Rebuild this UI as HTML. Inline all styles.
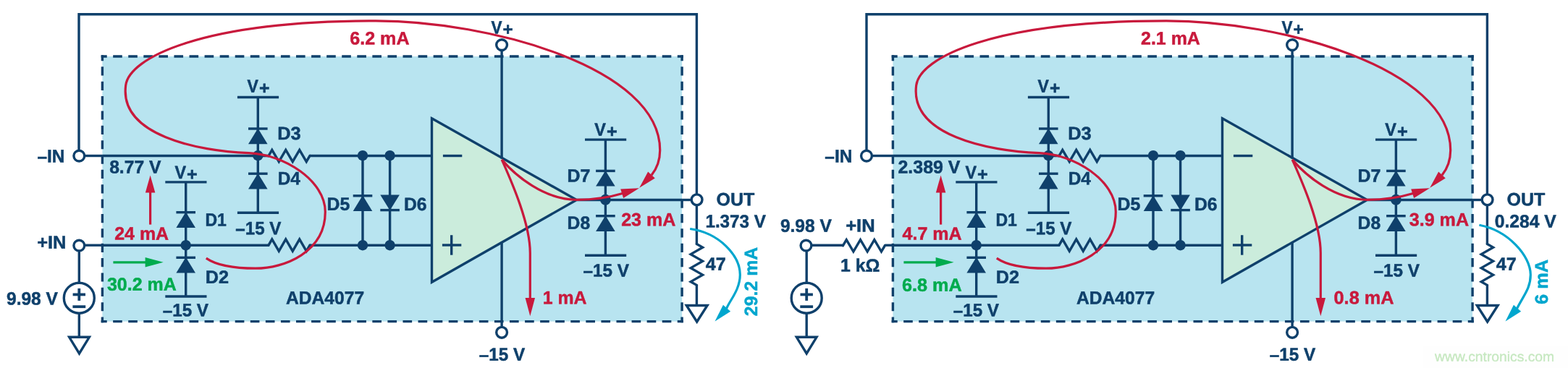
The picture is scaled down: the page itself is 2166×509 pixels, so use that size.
<!DOCTYPE html>
<html lang="en"><head><meta charset="utf-8"><title>ADA4077 input protection current paths</title>
<style>html,body{margin:0;padding:0;background:#fff}body{width:2166px;height:509px;overflow:hidden}svg{display:block;will-change:transform}text{text-rendering:geometricPrecision;font-family:"Liberation Sans",Arial,Helvetica,sans-serif;font-weight:bold;stroke:currentColor;stroke-width:0.5px;stroke-linejoin:round}</style>
</head><body>
<svg width="2166" height="509" viewBox="0 0 2166 509">
<rect width="2166" height="509" fill="#fff"/>
<rect x="1965.8" y="478.7" width="200.2" height="30.3" fill="#fefefe"/>
<rect x="141.4" y="78.05" width="800.7" height="366.55" fill="#b8e4f0"/>
<g stroke="#0f406b" stroke-width="3.4" fill="none">
<path d="M139.7 78.05 H943.8 M139.7 444.6 H943.8" stroke-dasharray="12.643 8.428" stroke-dashoffset="4.621"/>
<path d="M141.4 76.35 V446.3 M942.1 76.35 V446.3" stroke-dasharray="12.218 8.146" stroke-dashoffset="4.409"/>
</g>
<polygon points="596.5,163.8 796.5,276.5 596.5,390.3" fill="#cbecdc" stroke="#0f406b" stroke-width="3.4" stroke-linejoin="miter"/>
<line x1="611.9" y1="215.5" x2="638.3" y2="215.5" stroke="#0f406b" stroke-width="3.4" stroke-linecap="butt"/>
<line x1="610.9" y1="339" x2="637.3" y2="339" stroke="#0f406b" stroke-width="3.4" stroke-linecap="butt"/>
<line x1="623.7" y1="325.2" x2="623.7" y2="352.7" stroke="#0f406b" stroke-width="3.4" stroke-linecap="butt"/>
<line x1="693.1" y1="70" x2="693.1" y2="219.5" stroke="#0f406b" stroke-width="3.4" stroke-linecap="butt"/>
<line x1="693.1" y1="334.5" x2="693.1" y2="452" stroke="#0f406b" stroke-width="3.4" stroke-linecap="butt"/>
<circle cx="693.1" cy="62.1" r="7.4" fill="#fff" stroke="#0f406b" stroke-width="3.4"/>
<circle cx="693.1" cy="459.8" r="7.4" fill="#fff" stroke="#0f406b" stroke-width="3.4"/>
<line x1="141.4" y1="215.5" x2="371" y2="215.5" stroke="#0f406b" stroke-width="3.4" stroke-linecap="butt"/>
<polyline points="370,215.5 371,215.5 375.75,207.3 385.25,223.7 394.75,207.3 404.25,223.7 413.75,207.3 423.25,223.7 428,215.5 429,215.5" fill="none" stroke="#0f406b" stroke-width="3.4" stroke-linejoin="miter"/>
<line x1="428" y1="215.5" x2="596.5" y2="215.5" stroke="#0f406b" stroke-width="3.4" stroke-linecap="butt"/>
<line x1="141.4" y1="339.2" x2="371" y2="339.2" stroke="#0f406b" stroke-width="3.4" stroke-linecap="butt"/>
<polyline points="370,339.2 371,339.2 375.75,331 385.25,347.4 394.75,331 404.25,347.4 413.75,331 423.25,347.4 428,339.2 429,339.2" fill="none" stroke="#0f406b" stroke-width="3.4" stroke-linejoin="miter"/>
<line x1="428" y1="339.2" x2="596.5" y2="339.2" stroke="#0f406b" stroke-width="3.4" stroke-linecap="butt"/>
<line x1="797" y1="276.5" x2="942.2" y2="276.5" stroke="#0f406b" stroke-width="3.4" stroke-linecap="butt"/>
<line x1="356.3" y1="134.5" x2="356.3" y2="294.2" stroke="#0f406b" stroke-width="3.4" stroke-linecap="butt"/>
<line x1="327.9" y1="134.5" x2="385.1" y2="134.5" stroke="#0f406b" stroke-width="3.4" stroke-linecap="butt"/>
<line x1="327.9" y1="294.2" x2="385.1" y2="294.2" stroke="#0f406b" stroke-width="3.4" stroke-linecap="butt"/>
<polygon points="356.3,177.5 369.6,199.2 343,199.2" fill="#0f406b"/>
<line x1="343" y1="178" x2="369.6" y2="178" stroke="#0f406b" stroke-width="3.4" stroke-linecap="butt"/>
<polygon points="356.3,239.7 369.6,261.4 343,261.4" fill="#0f406b"/>
<line x1="343" y1="240.2" x2="369.6" y2="240.2" stroke="#0f406b" stroke-width="3.4" stroke-linecap="butt"/>
<circle cx="356.3" cy="215.2" r="7.2" fill="#0f406b"/>
<line x1="256.7" y1="251.9" x2="256.7" y2="410" stroke="#0f406b" stroke-width="3.4" stroke-linecap="butt"/>
<line x1="228.3" y1="251.9" x2="285.5" y2="251.9" stroke="#0f406b" stroke-width="3.4" stroke-linecap="butt"/>
<line x1="228.3" y1="410" x2="285.5" y2="410" stroke="#0f406b" stroke-width="3.4" stroke-linecap="butt"/>
<polygon points="256.7,293.2 270,314.9 243.4,314.9" fill="#0f406b"/>
<line x1="243.4" y1="293.7" x2="270" y2="293.7" stroke="#0f406b" stroke-width="3.4" stroke-linecap="butt"/>
<polygon points="256.7,355.8 270,377.5 243.4,377.5" fill="#0f406b"/>
<line x1="243.4" y1="356.3" x2="270" y2="356.3" stroke="#0f406b" stroke-width="3.4" stroke-linecap="butt"/>
<circle cx="256.7" cy="339.2" r="7.2" fill="#0f406b"/>
<line x1="501" y1="215.5" x2="501" y2="339.2" stroke="#0f406b" stroke-width="3.4" stroke-linecap="butt"/>
<polygon points="501,270.3 514.3,292 487.7,292" fill="#0f406b"/>
<line x1="487.7" y1="270.8" x2="514.3" y2="270.8" stroke="#0f406b" stroke-width="3.4" stroke-linecap="butt"/>
<circle cx="501" cy="215.2" r="7.2" fill="#0f406b"/>
<circle cx="501" cy="339.2" r="7.2" fill="#0f406b"/>
<line x1="538.6" y1="215.5" x2="538.6" y2="339.2" stroke="#0f406b" stroke-width="3.4" stroke-linecap="butt"/>
<polygon points="538.6,291.1 551.9,269.4 525.3,269.4" fill="#0f406b"/>
<line x1="525.3" y1="290.6" x2="551.9" y2="290.6" stroke="#0f406b" stroke-width="3.4" stroke-linecap="butt"/>
<circle cx="538.6" cy="215.2" r="7.2" fill="#0f406b"/>
<circle cx="538.6" cy="339.2" r="7.2" fill="#0f406b"/>
<line x1="836.4" y1="193.1" x2="836.4" y2="353.3" stroke="#0f406b" stroke-width="3.4" stroke-linecap="butt"/>
<line x1="808" y1="193.1" x2="865.2" y2="193.1" stroke="#0f406b" stroke-width="3.4" stroke-linecap="butt"/>
<line x1="808" y1="353.3" x2="865.2" y2="353.3" stroke="#0f406b" stroke-width="3.4" stroke-linecap="butt"/>
<polygon points="836.4,235.9 849.7,257.6 823.1,257.6" fill="#0f406b"/>
<line x1="823.1" y1="236.4" x2="849.7" y2="236.4" stroke="#0f406b" stroke-width="3.4" stroke-linecap="butt"/>
<polygon points="836.4,298.2 849.7,319.9 823.1,319.9" fill="#0f406b"/>
<line x1="823.1" y1="298.7" x2="849.7" y2="298.7" stroke="#0f406b" stroke-width="3.4" stroke-linecap="butt"/>
<circle cx="836.4" cy="276.2" r="7.4" fill="#0f406b"/>
<path d="M284.8 357.1 C300 367.6 324 371.2 353 371.2 C392.6 371.2 449.3 348.9 449.3 293 C449.3 249.9 392.5 213.4 343.5 211.7 C273.4 209.1 164.7 187.2 173.7 118 C178.5 80.2 278.3 28.9 519 28.9 C676.2 28.9 911.7 93.5 911.7 207.7 C911.7 220.3 909.1 230.8 900 242.3" fill="none" stroke="#c8193c" stroke-width="3.2"/>
<polygon points="883.2,259.8 895.16,237.42 904.78,246.46" fill="#c8193c"/>
<path d="M693.2 220.9 C712 243 752 276.3 797 276.3 C822 276.3 842 273 861 267.3" fill="none" stroke="#c8193c" stroke-width="3.2"/>
<polygon points="883,260.2 861.14,273.95 857.2,261.56" fill="#c8193c"/>
<path d="M693.2 220.9 C708 254 732.3 310 732.3 350 V414" fill="none" stroke="#c8193c" stroke-width="3.2"/>
<polygon points="732.3,437.2 725.55,412 739.05,412" fill="#c8193c"/>
<line x1="207.6" y1="310.6" x2="207.6" y2="264" stroke="#c8193c" stroke-width="3.2" stroke-linecap="butt"/>
<polygon points="207.6,242.4 214.35,266.4 200.85,266.4" fill="#c8193c"/>
<line x1="156.4" y1="362.8" x2="202" y2="362.8" stroke="#00ab4e" stroke-width="3.2" stroke-linecap="butt"/>
<polygon points="225.6,362.8 200.6,369.55 200.6,356.05" fill="#00ab4e"/>
<polyline points="109,208.5 109,19.8 962.4,19.8 962.4,268.8" fill="none" stroke="#0f406b" stroke-width="3.4" stroke-linejoin="miter"/>
<line x1="116.5" y1="215.5" x2="141.4" y2="215.5" stroke="#0f406b" stroke-width="3.4" stroke-linecap="butt"/>
<line x1="116.5" y1="339.2" x2="141.4" y2="339.2" stroke="#0f406b" stroke-width="3.4" stroke-linecap="butt"/>
<circle cx="109.3" cy="215.6" r="7.4" fill="#fff" stroke="#0f406b" stroke-width="3.4"/>
<line x1="942.2" y1="276.5" x2="955.4" y2="276.5" stroke="#0f406b" stroke-width="3.4" stroke-linecap="butt"/>
<line x1="962.4" y1="284" x2="962.4" y2="337.4" stroke="#0f406b" stroke-width="3.4" stroke-linecap="butt"/>
<polyline points="962.4,336.4 962.4,337.4 970.6,342.15 954.2,351.65 970.6,361.15 954.2,370.65 970.6,380.15 954.2,389.65 962.4,394.4 962.4,395.4" fill="none" stroke="#0f406b" stroke-width="3.4" stroke-linejoin="miter"/>
<line x1="962.4" y1="394.4" x2="962.4" y2="421.5" stroke="#0f406b" stroke-width="3.4" stroke-linecap="butt"/>
<polygon points="948.3,422.5 977.1,422.5 962.7,445" fill="#fff" stroke="#0f406b" stroke-width="3.4" stroke-linejoin="miter"/>
<path d="M953.2 316.5 C994.1 322.1 1022.3 353.8 1022.3 380 C1022.3 400.5 1008.4 415.2 1003.6 426.6" fill="none" stroke="#00a6ce" stroke-width="3.2"/>
<polygon points="987.5,444.6 998.94,421.66 1009.12,430.83" fill="#00a6ce"/>
<circle cx="962.6" cy="276.3" r="7.4" fill="#fff" stroke="#0f406b" stroke-width="3.4"/>
<line x1="109.3" y1="346.5" x2="109.3" y2="391" stroke="#0f406b" stroke-width="3.4" stroke-linecap="butt"/>
<line x1="109.3" y1="433.5" x2="109.3" y2="466" stroke="#0f406b" stroke-width="3.4" stroke-linecap="butt"/>
<circle cx="109.3" cy="339.6" r="7.4" fill="#fff" stroke="#0f406b" stroke-width="3.4"/>
<circle cx="109.3" cy="412.2" r="21" fill="#fff" stroke="#0f406b" stroke-width="3.4"/>
<line x1="100.6" y1="407.4" x2="118" y2="407.4" stroke="#0f406b" stroke-width="3.8" stroke-linecap="butt"/>
<line x1="109.3" y1="398.9" x2="109.3" y2="415.9" stroke="#0f406b" stroke-width="3.8" stroke-linecap="butt"/>
<line x1="100.4" y1="424.2" x2="118.2" y2="424.2" stroke="#0f406b" stroke-width="3.8" stroke-linecap="butt"/>
<polygon points="95.65,466.3 123.35,466.3 109.5,488.9" fill="#fff" stroke="#0f406b" stroke-width="3.4" stroke-linejoin="miter"/>
<rect x="1233.4" y="78.05" width="800.7" height="366.55" fill="#b8e4f0"/>
<g stroke="#0f406b" stroke-width="3.4" fill="none">
<path d="M1231.7 78.05 H2035.8 M1231.7 444.6 H2035.8" stroke-dasharray="12.643 8.428" stroke-dashoffset="4.621"/>
<path d="M1233.4 76.35 V446.3 M2034.1 76.35 V446.3" stroke-dasharray="12.218 8.146" stroke-dashoffset="4.409"/>
</g>
<polygon points="1688.5,163.8 1888.5,276.5 1688.5,390.3" fill="#cbecdc" stroke="#0f406b" stroke-width="3.4" stroke-linejoin="miter"/>
<line x1="1703.9" y1="215.5" x2="1730.3" y2="215.5" stroke="#0f406b" stroke-width="3.4" stroke-linecap="butt"/>
<line x1="1702.9" y1="339" x2="1729.3" y2="339" stroke="#0f406b" stroke-width="3.4" stroke-linecap="butt"/>
<line x1="1715.7" y1="325.2" x2="1715.7" y2="352.7" stroke="#0f406b" stroke-width="3.4" stroke-linecap="butt"/>
<line x1="1785.1" y1="70" x2="1785.1" y2="219.5" stroke="#0f406b" stroke-width="3.4" stroke-linecap="butt"/>
<line x1="1785.1" y1="334.5" x2="1785.1" y2="452" stroke="#0f406b" stroke-width="3.4" stroke-linecap="butt"/>
<circle cx="1785.1" cy="62.1" r="7.4" fill="#fff" stroke="#0f406b" stroke-width="3.4"/>
<circle cx="1785.1" cy="459.8" r="7.4" fill="#fff" stroke="#0f406b" stroke-width="3.4"/>
<line x1="1233.4" y1="215.5" x2="1463" y2="215.5" stroke="#0f406b" stroke-width="3.4" stroke-linecap="butt"/>
<polyline points="1462,215.5 1463,215.5 1467.75,207.3 1477.25,223.7 1486.75,207.3 1496.25,223.7 1505.75,207.3 1515.25,223.7 1520,215.5 1521,215.5" fill="none" stroke="#0f406b" stroke-width="3.4" stroke-linejoin="miter"/>
<line x1="1520" y1="215.5" x2="1688.5" y2="215.5" stroke="#0f406b" stroke-width="3.4" stroke-linecap="butt"/>
<line x1="1233.4" y1="339.2" x2="1463" y2="339.2" stroke="#0f406b" stroke-width="3.4" stroke-linecap="butt"/>
<polyline points="1462,339.2 1463,339.2 1467.75,331 1477.25,347.4 1486.75,331 1496.25,347.4 1505.75,331 1515.25,347.4 1520,339.2 1521,339.2" fill="none" stroke="#0f406b" stroke-width="3.4" stroke-linejoin="miter"/>
<line x1="1520" y1="339.2" x2="1688.5" y2="339.2" stroke="#0f406b" stroke-width="3.4" stroke-linecap="butt"/>
<line x1="1889" y1="276.5" x2="2034.2" y2="276.5" stroke="#0f406b" stroke-width="3.4" stroke-linecap="butt"/>
<line x1="1448.3" y1="134.5" x2="1448.3" y2="294.2" stroke="#0f406b" stroke-width="3.4" stroke-linecap="butt"/>
<line x1="1419.9" y1="134.5" x2="1477.1" y2="134.5" stroke="#0f406b" stroke-width="3.4" stroke-linecap="butt"/>
<line x1="1419.9" y1="294.2" x2="1477.1" y2="294.2" stroke="#0f406b" stroke-width="3.4" stroke-linecap="butt"/>
<polygon points="1448.3,177.5 1461.6,199.2 1435,199.2" fill="#0f406b"/>
<line x1="1435" y1="178" x2="1461.6" y2="178" stroke="#0f406b" stroke-width="3.4" stroke-linecap="butt"/>
<polygon points="1448.3,239.7 1461.6,261.4 1435,261.4" fill="#0f406b"/>
<line x1="1435" y1="240.2" x2="1461.6" y2="240.2" stroke="#0f406b" stroke-width="3.4" stroke-linecap="butt"/>
<circle cx="1448.3" cy="215.2" r="7.2" fill="#0f406b"/>
<line x1="1348.7" y1="251.9" x2="1348.7" y2="410" stroke="#0f406b" stroke-width="3.4" stroke-linecap="butt"/>
<line x1="1320.3" y1="251.9" x2="1377.5" y2="251.9" stroke="#0f406b" stroke-width="3.4" stroke-linecap="butt"/>
<line x1="1320.3" y1="410" x2="1377.5" y2="410" stroke="#0f406b" stroke-width="3.4" stroke-linecap="butt"/>
<polygon points="1348.7,293.2 1362,314.9 1335.4,314.9" fill="#0f406b"/>
<line x1="1335.4" y1="293.7" x2="1362" y2="293.7" stroke="#0f406b" stroke-width="3.4" stroke-linecap="butt"/>
<polygon points="1348.7,355.8 1362,377.5 1335.4,377.5" fill="#0f406b"/>
<line x1="1335.4" y1="356.3" x2="1362" y2="356.3" stroke="#0f406b" stroke-width="3.4" stroke-linecap="butt"/>
<circle cx="1348.7" cy="339.2" r="7.2" fill="#0f406b"/>
<line x1="1593" y1="215.5" x2="1593" y2="339.2" stroke="#0f406b" stroke-width="3.4" stroke-linecap="butt"/>
<polygon points="1593,270.3 1606.3,292 1579.7,292" fill="#0f406b"/>
<line x1="1579.7" y1="270.8" x2="1606.3" y2="270.8" stroke="#0f406b" stroke-width="3.4" stroke-linecap="butt"/>
<circle cx="1593" cy="215.2" r="7.2" fill="#0f406b"/>
<circle cx="1593" cy="339.2" r="7.2" fill="#0f406b"/>
<line x1="1630.6" y1="215.5" x2="1630.6" y2="339.2" stroke="#0f406b" stroke-width="3.4" stroke-linecap="butt"/>
<polygon points="1630.6,291.1 1643.9,269.4 1617.3,269.4" fill="#0f406b"/>
<line x1="1617.3" y1="290.6" x2="1643.9" y2="290.6" stroke="#0f406b" stroke-width="3.4" stroke-linecap="butt"/>
<circle cx="1630.6" cy="215.2" r="7.2" fill="#0f406b"/>
<circle cx="1630.6" cy="339.2" r="7.2" fill="#0f406b"/>
<line x1="1928.4" y1="193.1" x2="1928.4" y2="353.3" stroke="#0f406b" stroke-width="3.4" stroke-linecap="butt"/>
<line x1="1900" y1="193.1" x2="1957.2" y2="193.1" stroke="#0f406b" stroke-width="3.4" stroke-linecap="butt"/>
<line x1="1900" y1="353.3" x2="1957.2" y2="353.3" stroke="#0f406b" stroke-width="3.4" stroke-linecap="butt"/>
<polygon points="1928.4,235.9 1941.7,257.6 1915.1,257.6" fill="#0f406b"/>
<line x1="1915.1" y1="236.4" x2="1941.7" y2="236.4" stroke="#0f406b" stroke-width="3.4" stroke-linecap="butt"/>
<polygon points="1928.4,298.2 1941.7,319.9 1915.1,319.9" fill="#0f406b"/>
<line x1="1915.1" y1="298.7" x2="1941.7" y2="298.7" stroke="#0f406b" stroke-width="3.4" stroke-linecap="butt"/>
<circle cx="1928.4" cy="276.2" r="7.4" fill="#0f406b"/>
<path d="M1376.8 357.1 C1392 367.6 1416 371.2 1445 371.2 C1484.6 371.2 1541.3 348.9 1541.3 293 C1541.3 249.9 1484.5 213.4 1435.5 211.7 C1365.4 209.1 1256.7 187.2 1265.7 118 C1270.5 80.2 1370.3 28.9 1611 28.9 C1768.2 28.9 2003.7 93.5 2003.7 207.7 C2003.7 220.3 2001.1 230.8 1992 242.3" fill="none" stroke="#c8193c" stroke-width="3.2"/>
<polygon points="1975.2,259.8 1987.16,237.42 1996.78,246.46" fill="#c8193c"/>
<path d="M1785.2 220.9 C1804 243 1844 276.3 1889 276.3 C1914 276.3 1934 273 1953 267.3" fill="none" stroke="#c8193c" stroke-width="3.2"/>
<polygon points="1975,260.2 1953.14,273.95 1949.2,261.56" fill="#c8193c"/>
<path d="M1785.2 220.9 C1800 254 1824.3 310 1824.3 350 V414" fill="none" stroke="#c8193c" stroke-width="3.2"/>
<polygon points="1824.3,437.2 1817.55,412 1831.05,412" fill="#c8193c"/>
<line x1="1299.6" y1="310.6" x2="1299.6" y2="264" stroke="#c8193c" stroke-width="3.2" stroke-linecap="butt"/>
<polygon points="1299.6,242.4 1306.35,266.4 1292.85,266.4" fill="#c8193c"/>
<line x1="1248.4" y1="362.8" x2="1294" y2="362.8" stroke="#00ab4e" stroke-width="3.2" stroke-linecap="butt"/>
<polygon points="1317.6,362.8 1292.6,369.55 1292.6,356.05" fill="#00ab4e"/>
<polyline points="1197,208.5 1197,19.8 2054.4,19.8 2054.4,268.8" fill="none" stroke="#0f406b" stroke-width="3.4" stroke-linejoin="miter"/>
<line x1="1204" y1="215.5" x2="1233.4" y2="215.5" stroke="#0f406b" stroke-width="3.4" stroke-linecap="butt"/>
<circle cx="1197" cy="215.6" r="7.4" fill="#fff" stroke="#0f406b" stroke-width="3.4"/>
<line x1="2034.2" y1="276.5" x2="2047.4" y2="276.5" stroke="#0f406b" stroke-width="3.4" stroke-linecap="butt"/>
<line x1="2054.4" y1="284" x2="2054.4" y2="337.4" stroke="#0f406b" stroke-width="3.4" stroke-linecap="butt"/>
<polyline points="2054.4,336.4 2054.4,337.4 2062.6,342.15 2046.2,351.65 2062.6,361.15 2046.2,370.65 2062.6,380.15 2046.2,389.65 2054.4,394.4 2054.4,395.4" fill="none" stroke="#0f406b" stroke-width="3.4" stroke-linejoin="miter"/>
<line x1="2054.4" y1="394.4" x2="2054.4" y2="421.5" stroke="#0f406b" stroke-width="3.4" stroke-linecap="butt"/>
<polygon points="2040.3,422.5 2069.1,422.5 2054.7,445" fill="#fff" stroke="#0f406b" stroke-width="3.4" stroke-linejoin="miter"/>
<path d="M2043.4 311.3 C2083.1 318.7 2114.3 353.7 2114.3 380 C2114.3 398.9 2104.7 408.5 2095.6 426.6" fill="none" stroke="#00a6ce" stroke-width="3.2"/>
<polygon points="2079.5,444.6 2090.94,421.66 2101.12,430.83" fill="#00a6ce"/>
<circle cx="2054.6" cy="276.3" r="7.4" fill="#fff" stroke="#0f406b" stroke-width="3.4"/>
<line x1="1121.5" y1="339.2" x2="1164.4" y2="339.2" stroke="#0f406b" stroke-width="3.4" stroke-linecap="butt"/>
<polyline points="1163.4,339.8 1164.4,339.8 1169.23,331.6 1178.88,348 1188.53,331.6 1198.17,348 1207.83,331.6 1217.47,348 1222.3,339.8 1223.3,339.8" fill="none" stroke="#0f406b" stroke-width="3.4" stroke-linejoin="miter"/>
<line x1="1222.3" y1="339.2" x2="1233.4" y2="339.2" stroke="#0f406b" stroke-width="3.4" stroke-linecap="butt"/>
<line x1="1114.2" y1="346.5" x2="1114.2" y2="391" stroke="#0f406b" stroke-width="3.4" stroke-linecap="butt"/>
<line x1="1114.2" y1="433.5" x2="1114.2" y2="466" stroke="#0f406b" stroke-width="3.4" stroke-linecap="butt"/>
<circle cx="1113.5" cy="339.6" r="7.4" fill="#fff" stroke="#0f406b" stroke-width="3.4"/>
<circle cx="1114.2" cy="412.2" r="21" fill="#fff" stroke="#0f406b" stroke-width="3.4"/>
<line x1="1105.5" y1="407.4" x2="1122.9" y2="407.4" stroke="#0f406b" stroke-width="3.8" stroke-linecap="butt"/>
<line x1="1114.2" y1="398.9" x2="1114.2" y2="415.9" stroke="#0f406b" stroke-width="3.8" stroke-linecap="butt"/>
<line x1="1105.3" y1="424.2" x2="1123.1" y2="424.2" stroke="#0f406b" stroke-width="3.8" stroke-linecap="butt"/>
<polygon points="1100.35,466.3 1128.05,466.3 1114.2,488.9" fill="#fff" stroke="#0f406b" stroke-width="3.4" stroke-linejoin="miter"/>
<text transform="translate(241.49 247) rotate(0.05) scale(0.9311 1)" fill="#0f406b" color="#0f406b" font-size="25">V</text>
<text transform="translate(258.09 248.9) rotate(0.05) scale(1.0567 1)" fill="#0f406b" color="#0f406b" font-size="23.8">+</text>
<text transform="translate(341.49 127.8) rotate(0.05) scale(0.9185 1)" fill="#0f406b" color="#0f406b" font-size="25">V</text>
<text transform="translate(357.88 129.7) rotate(0.05) scale(1.0423 1)" fill="#0f406b" color="#0f406b" font-size="23.8">+</text>
<text transform="translate(821.29 187.8) rotate(0.05) scale(0.9374 1)" fill="#0f406b" color="#0f406b" font-size="25">V</text>
<text transform="translate(838 189.7) rotate(0.05) scale(1.0639 1)" fill="#0f406b" color="#0f406b" font-size="23.8">+</text>
<text transform="translate(678.39 46.5) rotate(0.05) scale(0.8997 1)" fill="#0f406b" color="#0f406b" font-size="25">V</text>
<text transform="translate(694.46 48.4) rotate(0.05) scale(1.0208 1)" fill="#0f406b" color="#0f406b" font-size="23.8">+</text>
<text transform="translate(224.72 437.5) rotate(0.05) scale(0.9689 1)" fill="#0f406b" color="#0f406b" font-size="25"><tspan dy="0.5">–</tspan><tspan dy="-0.5">15 V</tspan></text>
<text transform="translate(325.33 324.2) rotate(0.05) scale(0.9658 1)" fill="#0f406b" color="#0f406b" font-size="25"><tspan dy="0.5">–</tspan><tspan dy="-0.5">15 V</tspan></text>
<text transform="translate(805.52 382.6) rotate(0.05) scale(0.9705 1)" fill="#0f406b" color="#0f406b" font-size="25"><tspan dy="0.5">–</tspan><tspan dy="-0.5">15 V</tspan></text>
<text transform="translate(661.72 498.8) rotate(0.05) scale(0.9705 1)" fill="#0f406b" color="#0f406b" font-size="25"><tspan dy="0.5">–</tspan><tspan dy="-0.5">15 V</tspan></text>
<text transform="translate(283.51 312.6) rotate(0.05) scale(0.9197 1)" fill="#0f406b" color="#0f406b" font-size="25">D1</text>
<text transform="translate(283.76 391.8) rotate(0.05) scale(1.0111 1)" fill="#0f406b" color="#0f406b" font-size="25">D2</text>
<text transform="translate(383.15 192.9) rotate(0.05) scale(1.0179 1)" fill="#0f406b" color="#0f406b" font-size="25">D3</text>
<text transform="translate(383.72 255.3) rotate(0.05) scale(0.9751 1)" fill="#0f406b" color="#0f406b" font-size="25">D4</text>
<text transform="translate(451.58 290.8) rotate(0.05) scale(0.9941 1)" fill="#0f406b" color="#0f406b" font-size="25">D5</text>
<text transform="translate(557.99 290.9) rotate(0.05) scale(0.9906 1)" fill="#0f406b" color="#0f406b" font-size="25">D6</text>
<text transform="translate(783.58 251.5) rotate(0.05) scale(0.9974 1)" fill="#0f406b" color="#0f406b" font-size="25">D7</text>
<text transform="translate(783.6 316.8) rotate(0.05) scale(0.9864 1)" fill="#0f406b" color="#0f406b" font-size="25">D8</text>
<text transform="translate(395.03 420.5) rotate(0.05) scale(0.9847 1)" fill="#0f406b" color="#0f406b" font-size="25">ADA4077</text>
<text transform="translate(483.22 61.5) rotate(0.05) scale(1.0037 1)" fill="#c8193c" color="#c8193c" font-size="25">6.2 mA</text>
<text transform="translate(858.17 312.2) rotate(0.05) scale(1.0027 1)" fill="#c8193c" color="#c8193c" font-size="25">23 mA</text>
<text transform="translate(749.68 420.3) rotate(0.05) scale(0.9949 1)" fill="#c8193c" color="#c8193c" font-size="25">1 mA</text>
<text transform="translate(158.18 331.6) rotate(0.05) scale(0.9986 1)" fill="#c8193c" color="#c8193c" font-size="25">24 mA</text>
<text transform="translate(147.98 401.7) rotate(0.05) scale(0.9984 1)" fill="#00ab4e" color="#00ab4e" font-size="25">30.2 mA</text>
<text transform="translate(151.16 239.5) rotate(0.05) scale(0.9860 1)" fill="#0f406b" color="#0f406b" font-size="25">8.77 V</text>
<text transform="translate(989.42 284.3) rotate(0.05) scale(1.0024 1)" fill="#0f406b" color="#0f406b" font-size="25">OUT</text>
<text transform="translate(974.42 314.6) rotate(0.05) scale(0.9689 1)" fill="#0f406b" color="#0f406b" font-size="25">1.373 V</text>
<text transform="translate(974.87 373.7) rotate(0.05) scale(1.0066 1)" fill="#0f406b" color="#0f406b" font-size="25">47</text>
<text transform="translate(1046.05 437.22) rotate(-89.95) scale(0.9963 1)" fill="#00a6ce" color="#00a6ce" font-size="25">29.2 mA</text>
<text transform="translate(51.42 224.4) rotate(0.05) scale(0.9760 1)" fill="#0f406b" color="#0f406b" font-size="25"><tspan dy="0.5">–</tspan><tspan dy="-0.5">IN</tspan></text>
<text transform="translate(51.18 343.8) rotate(0.05) scale(1.0169 1)" fill="#0f406b" color="#0f406b" font-size="25">+IN</text>
<text transform="translate(8.99 421.5) rotate(0.05) scale(0.9814 1)" fill="#0f406b" color="#0f406b" font-size="25">9.98 V</text>
<text transform="translate(1333.49 247) rotate(0.05) scale(0.9311 1)" fill="#0f406b" color="#0f406b" font-size="25">V</text>
<text transform="translate(1350.09 248.9) rotate(0.05) scale(1.0567 1)" fill="#0f406b" color="#0f406b" font-size="23.8">+</text>
<text transform="translate(1433.49 127.8) rotate(0.05) scale(0.9185 1)" fill="#0f406b" color="#0f406b" font-size="25">V</text>
<text transform="translate(1449.88 129.7) rotate(0.05) scale(1.0423 1)" fill="#0f406b" color="#0f406b" font-size="23.8">+</text>
<text transform="translate(1913.29 187.8) rotate(0.05) scale(0.9374 1)" fill="#0f406b" color="#0f406b" font-size="25">V</text>
<text transform="translate(1930 189.7) rotate(0.05) scale(1.0639 1)" fill="#0f406b" color="#0f406b" font-size="23.8">+</text>
<text transform="translate(1770.39 46.5) rotate(0.05) scale(0.8997 1)" fill="#0f406b" color="#0f406b" font-size="25">V</text>
<text transform="translate(1786.46 48.4) rotate(0.05) scale(1.0208 1)" fill="#0f406b" color="#0f406b" font-size="23.8">+</text>
<text transform="translate(1316.72 437.5) rotate(0.05) scale(0.9689 1)" fill="#0f406b" color="#0f406b" font-size="25"><tspan dy="0.5">–</tspan><tspan dy="-0.5">15 V</tspan></text>
<text transform="translate(1417.33 324.2) rotate(0.05) scale(0.9658 1)" fill="#0f406b" color="#0f406b" font-size="25"><tspan dy="0.5">–</tspan><tspan dy="-0.5">15 V</tspan></text>
<text transform="translate(1897.52 382.6) rotate(0.05) scale(0.9705 1)" fill="#0f406b" color="#0f406b" font-size="25"><tspan dy="0.5">–</tspan><tspan dy="-0.5">15 V</tspan></text>
<text transform="translate(1753.72 498.8) rotate(0.05) scale(0.9705 1)" fill="#0f406b" color="#0f406b" font-size="25"><tspan dy="0.5">–</tspan><tspan dy="-0.5">15 V</tspan></text>
<text transform="translate(1375.51 312.6) rotate(0.05) scale(0.9197 1)" fill="#0f406b" color="#0f406b" font-size="25">D1</text>
<text transform="translate(1375.76 391.8) rotate(0.05) scale(1.0111 1)" fill="#0f406b" color="#0f406b" font-size="25">D2</text>
<text transform="translate(1475.15 192.9) rotate(0.05) scale(1.0179 1)" fill="#0f406b" color="#0f406b" font-size="25">D3</text>
<text transform="translate(1475.72 255.3) rotate(0.05) scale(0.9751 1)" fill="#0f406b" color="#0f406b" font-size="25">D4</text>
<text transform="translate(1543.58 290.8) rotate(0.05) scale(0.9941 1)" fill="#0f406b" color="#0f406b" font-size="25">D5</text>
<text transform="translate(1649.99 290.9) rotate(0.05) scale(0.9906 1)" fill="#0f406b" color="#0f406b" font-size="25">D6</text>
<text transform="translate(1875.58 251.5) rotate(0.05) scale(0.9974 1)" fill="#0f406b" color="#0f406b" font-size="25">D7</text>
<text transform="translate(1875.6 316.8) rotate(0.05) scale(0.9864 1)" fill="#0f406b" color="#0f406b" font-size="25">D8</text>
<text transform="translate(1487.03 420.5) rotate(0.05) scale(0.9847 1)" fill="#0f406b" color="#0f406b" font-size="25">ADA4077</text>
<text transform="translate(1575.98 61.5) rotate(0.05) scale(0.9994 1)" fill="#c8193c" color="#c8193c" font-size="25">2.1 mA</text>
<text transform="translate(1946.77 312.2) rotate(0.05) scale(1.0031 1)" fill="#c8193c" color="#c8193c" font-size="25">3.9 mA</text>
<text transform="translate(1842.54 420.3) rotate(0.05) scale(1.0121 1)" fill="#c8193c" color="#c8193c" font-size="25">0.8 mA</text>
<text transform="translate(1246.57 331.6) rotate(0.05) scale(1.0019 1)" fill="#c8193c" color="#c8193c" font-size="25">4.7 mA</text>
<text transform="translate(1246.02 402.8) rotate(0.05) scale(1.0087 1)" fill="#00ab4e" color="#00ab4e" font-size="25">6.8 mA</text>
<text transform="translate(1240.48 239.5) rotate(0.05) scale(0.9974 1)" fill="#0f406b" color="#0f406b" font-size="25">2.389 V</text>
<text transform="translate(2081.42 284.3) rotate(0.05) scale(1.0024 1)" fill="#0f406b" color="#0f406b" font-size="25">OUT</text>
<text transform="translate(2064.66 314.6) rotate(0.05) scale(0.9871 1)" fill="#0f406b" color="#0f406b" font-size="25">0.284 V</text>
<text transform="translate(2066.87 373.7) rotate(0.05) scale(1.0066 1)" fill="#0f406b" color="#0f406b" font-size="25">47</text>
<text transform="translate(2138.05 420.99) rotate(-89.95) scale(1.0160 1)" fill="#00a6ce" color="#00a6ce" font-size="25">6 mA</text>
<text transform="translate(1139.32 224.4) rotate(0.05) scale(0.9760 1)" fill="#0f406b" color="#0f406b" font-size="25"><tspan dy="0.5">–</tspan><tspan dy="-0.5">IN</tspan></text>
<text transform="translate(1168.18 320.6) rotate(0.05) scale(1.0224 1)" fill="#0f406b" color="#0f406b" font-size="25">+IN</text>
<text transform="translate(1077.89 320.8) rotate(0.05) scale(0.9814 1)" fill="#0f406b" color="#0f406b" font-size="25">9.98 V</text>
<text transform="translate(1161.09 375.6) rotate(0.05) scale(0.9923 1)" fill="#0f406b" color="#0f406b" font-size="25">1 kΩ</text>
<text transform="translate(1982.02 499.6) rotate(0.05) scale(1.0217 1)" fill="#c6e8c0" color="#c6e8c0" font-size="18.9" style="font-weight:normal;stroke-width:0.3px">www.cntronics.com</text>
</svg>
</body></html>
